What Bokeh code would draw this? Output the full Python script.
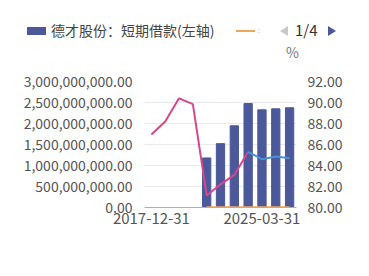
import numpy as np
from bokeh.plotting import figure
from bokeh.layouts import column
from bokeh.models import (Range1d, LinearAxis, FixedTicker, NumeralTickFormatter, Div)
from bokeh.embed import file_html
from bokeh.resources import INLINE

dates = ["2017-12-31", "2018-12-31", "2019-12-31", "2020-12-31", "2021-12-31",
         "2022-12-31", "2023-12-31", "2024-12-31", "2025-03-31", "2025-06-30",
         "2025-09-30"]
loan_idx = [4, 5, 6, 7, 8, 9, 10]
short_loans = [1.18e9, 1.52e9, 1.945e9, 2.475e9, 2.325e9, 2.35e9, 2.375e9]
ratio_a_idx = [0, 1, 2, 3, 4, 5, 6, 7]
ratio_a = [86.95, 88.2, 90.4, 89.85, 81.15, 82.2, 83.1, 85.3]
ratio_b_idx = [7, 8, 9, 10]
ratio_b = [85.3, 84.6, 84.85, 84.7]
orange_idx = [4, 5, 6, 7, 8, 9, 10]
orange_vals = [0, 0, 0, 0, 0, 0, 0]
left_ticks = [0, 5e8, 1e9, 1.5e9, 2e9, 2.5e9, 3e9]
right_ticks = [80, 82, 84, 86, 88, 90, 92]
x_label_idx = [0, 8]
legend_labels = ["德才股份：短期借款(左轴)", "："]
pager_text = "1/4"
unit_text = "%"

FONT = "Noto Sans CJK SC"
TXT = "#555555"
BAR = "#4b5899"
ORANGE = "#f0a55c"
H = 62

# ---------- header: legend, pager, unit ----------
def span(style, content=""):
    return f'<span style="position:absolute;{style}">{content}</span>'

header_html = (
    f'<div style="position:relative;width:369px;height:{H}px;overflow:hidden;'
    f"font-family:'{FONT}';\">"
    + span(f"left:27px;top:27px;width:19px;height:8px;background:{BAR};")
    + span("left:51px;top:20px;font-size:14px;line-height:20px;color:#444;"
           "white-space:nowrap;", legend_labels[0])
    + span(f"left:236px;top:30px;width:19px;height:2px;background:{ORANGE};")
    + span("left:257px;top:25px;font-size:7px;line-height:10px;color:#bbb;",
           legend_labels[1])
    + span("left:280px;top:26px;width:0;height:0;border-top:5px solid transparent;"
           "border-bottom:5px solid transparent;border-right:8px solid #c8c8c8;")
    + span("left:295px;top:20px;font-size:15px;line-height:20px;color:#333;",
           pager_text)
    + span("left:328px;top:26px;width:0;height:0;border-top:5px solid transparent;"
           f"border-bottom:5px solid transparent;border-left:8px solid {BAR};")
    + span("left:286px;top:43px;font-size:14px;line-height:18px;color:#777;",
           unit_text)
    + "</div>"
)
header = Div(text=header_html, width=369, height=H, margin=0)

# ---------- main chart ----------
p = figure(width=369, height=276 - H, output_backend="svg", toolbar_location=None,
           x_range=Range1d(-0.5, len(dates) - 0.5), y_range=Range1d(0, 3e9),
           min_border_left=144, min_border_right=73, min_border_top=81 - H,
           min_border_bottom=69, margin=0)
p.outline_line_color = None
p.extra_y_ranges = {"pct": Range1d(80, 92)}

xs = np.arange(len(dates))
p.vbar(x=[xs[i] for i in loan_idx], top=short_loans, width=0.6, color=BAR)
p.line(x=[xs[i] for i in orange_idx], y=orange_vals, line_color=ORANGE,
       line_width=2.5)
p.line(x=[xs[i] for i in ratio_a_idx], y=ratio_a, line_color="#d6478c",
       line_width=2, y_range_name="pct")
p.line(x=[xs[i] for i in ratio_b_idx], y=ratio_b, line_color="#4a8fd8",
       line_width=2, y_range_name="pct")

xa = p.xaxis[0]
xa.ticker = FixedTicker(ticks=x_label_idx)
xa.major_label_overrides = {int(i): dates[i] for i in x_label_idx}
xa.major_tick_line_color = None
xa.major_tick_out = 0
xa.minor_tick_line_color = None
xa.axis_line_color = "#aab0c0"
xa.major_label_text_font = FONT
xa.major_label_text_font_size = "15px"
xa.major_label_text_color = TXT
xa.major_label_standoff = 5

ya = p.yaxis[0]
ya.ticker = FixedTicker(ticks=left_ticks)
ya.formatter = NumeralTickFormatter(format="0,0.00")
ya.axis_line_color = None
ya.major_tick_line_color = None
ya.major_tick_out = 0
ya.minor_tick_line_color = None
ya.major_label_text_font = FONT
ya.major_label_text_font_size = "14px"
ya.major_label_text_color = TXT
ya.major_label_standoff = 12

ra = LinearAxis(y_range_name="pct", ticker=FixedTicker(ticks=right_ticks),
                formatter=NumeralTickFormatter(format="0.00"))
ra.axis_line_color = None
ra.major_tick_line_color = None
ra.major_tick_out = 0
ra.minor_tick_line_color = None
ra.major_label_text_font = FONT
ra.major_label_text_font_size = "14px"
ra.major_label_text_color = TXT
ra.major_label_standoff = 11
p.add_layout(ra, "right")

p.xgrid.grid_line_color = None
p.ygrid.grid_line_color = "#e8e8ee"
p.ygrid.ticker = FixedTicker(ticks=left_ticks)

layout = column(header, p, spacing=0, margin=0)
open("out.html", "w").write(file_html(layout, INLINE))
